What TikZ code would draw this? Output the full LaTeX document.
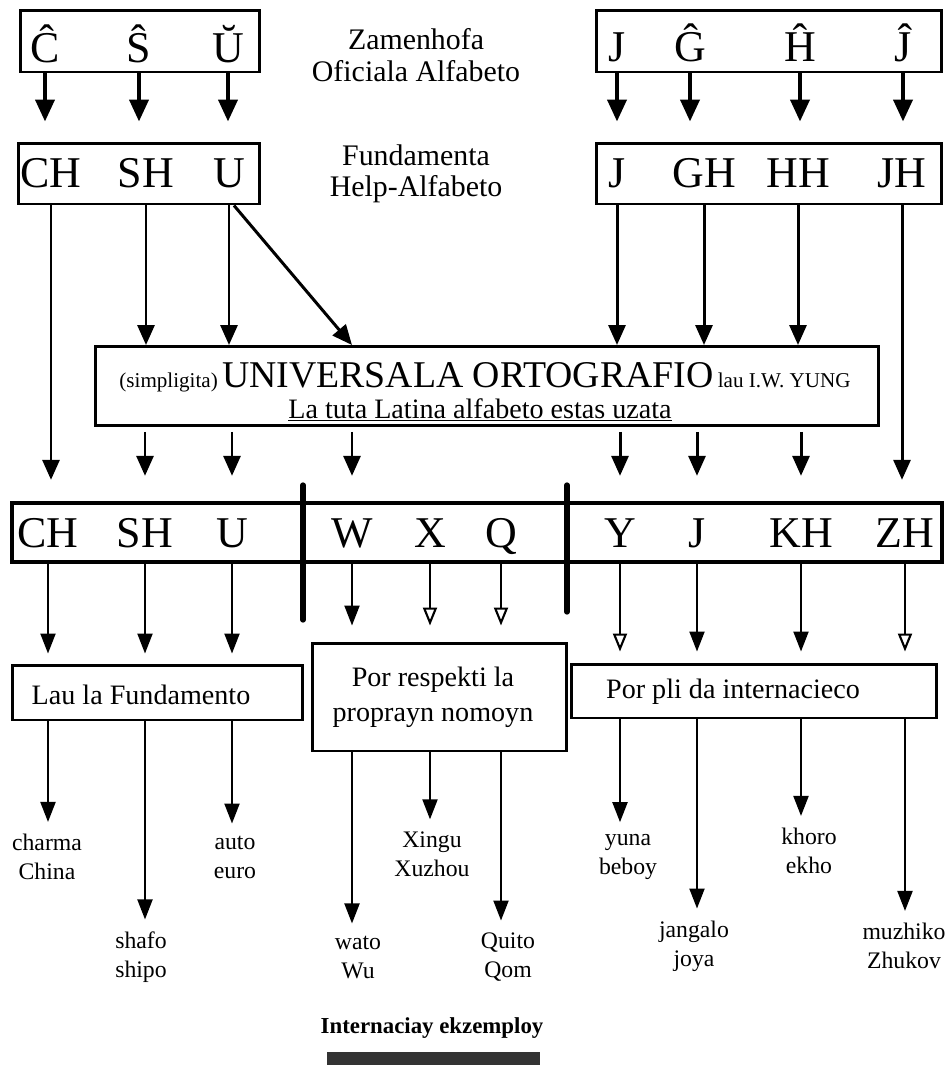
\documentclass[tikz,border=0pt]{standalone}
\usepackage{fontspec}
\setmainfont{Liberation Serif}
\usetikzlibrary{positioning, arrows.meta}

\begin{document}
\begin{tikzpicture}[
            x=0.02cm, y=-0.02cm,
            box/.style = {draw, line width=1.7pt, inner sep=0pt},
            letter/.style = {font=\fontsize{25}{27}\selectfont, inner sep=0pt, anchor=base},
            alfnote/.style = {font=\fontsize{17}{18}\selectfont, align=center},
            boxtext/.style = {font=\fontsize{16}{20}\selectfont, align=center},
            word/.style = {font=\fontsize{13.5}{16.5}\selectfont, align=center},
            fat/.style = {draw, line width=2.3pt, -{Triangle[length=4.4mm, width=3.8mm]}},
            line/.style = {draw, line width=1.7pt, -{Triangle[length=4mm, width=3.4mm]}},
            thin/.style = {draw, line width=1.2pt, -{Triangle[length=4mm, width=3mm]}},
            hollow/.style = {draw, line width=1.2pt, -{Triangle[open, length=3.6mm, width=2.8mm]}},
            wall/.style = {line width=3pt, line cap=round},
            ]
            \useasboundingbox (0,0) rectangle (952,1065);

            % Zamenhofa alfabeto
            \node[box, minimum width=4.8cm, minimum height=1.24cm] (zof) at (140,41) {};
            \node[box, minimum width=6.9cm, minimum height=1.24cm] (zofr) at (769,41) {};
            \node[letter] (zC) at (45,62) {Ĉ};
            \node[letter] (zS) at (139,62) {Ŝ};
            \node[letter] (zU) at (228,62) {Ŭ};
            \node[letter] (zJ) at (617,61) {J};
            \node[letter] (zG) at (690,61) {Ĝ};
            \node[letter] (zH) at (800,61) {Ĥ};
            \node[letter] (zJc) at (903,61) {Ĵ};
            \node[alfnote] (zam) at (416,55) {Zamenhofa\\Oficiala Alfabeto};

            % help-alfabeto
            \node[box, minimum width=4.84cm, minimum height=1.22cm] (help) at (139,173.5) {};
            \node[box, minimum width=6.9cm, minimum height=1.22cm] (helpr) at (769,173.5) {};
            \node[letter] (hC) at (51,187) {CH};
            \node[letter] (hS) at (146,187) {SH};
            \node[letter] (hU) at (229,187) {U};
            \node[letter] (hJ) at (617,187) {J};
            \node[letter] (hG) at (704,187) {GH};
            \node[letter] (hH) at (798,187) {HH};
            \node[letter] (hJh) at (902,187) {JH};
            \node[alfnote] (fun) at (416,174) {Fundamenta\\Help-Alfabeto};

            \draw[fat, shorten >=0.4cm] (zC |- zof.south) -- (zC |- help.north);
            \draw[fat, shorten >=0.4cm] (zS |- zof.south) -- (zS |- help.north);
            \draw[fat, shorten >=0.4cm] (zU |- zof.south) -- (zU |- help.north);
            \draw[fat, shorten >=0.4cm] (zJ |- zofr.south) -- (zJ |- helpr.north);
            \draw[fat, shorten >=0.4cm] (zG |- zofr.south) -- (zG |- helpr.north);
            \draw[fat, shorten >=0.4cm] (zH |- zofr.south) -- (zH |- helpr.north);
            \draw[fat, shorten >=0.4cm] (zJc |- zofr.south) -- (zJc |- helpr.north);

            % universala ortografio
            \node[box, minimum width=15.66cm, minimum height=1.58cm] (uni) at (487,386) {};
            \node (unitop) at (485,377) {{\fontsize{12}{14}\selectfont (simpligita)}
                {\fontsize{21.5}{24}\selectfont UNIVERSALA ORTOGRAFIO}
                {\fontsize{12}{14}\selectfont lau I.W. YUNG}};
            \node[font=\fontsize{16}{18}\selectfont] (unibot) at (480,410) {\underline{La tuta Latina alfabeto estas uzata}};

            % nova alfabeto
            \node[box, line width=2.5pt, minimum width=18.6cm, minimum height=1.18cm] (ort) at (477,532.5) {};
            \node[letter] (oC) at (48,547) {CH};
            \node[letter] (oS) at (145,547) {SH};
            \node[letter] (oU) at (232,547) {U};
            \node[letter] (oW) at (352,547) {W};
            \node[letter] (oX) at (430,547) {X};
            \node[letter] (oQ) at (501,547) {Q};
            \node[letter] (oY) at (620,547) {Y};
            \node[letter] (oJ) at (697,547) {J};
            \node[letter] (oK) at (801,547) {KH};
            \node[letter] (oZ) at (905,547) {ZH};
            \draw[wall] (303,485) -- (303,620);
            \draw[wall] (567,485) -- (567,612);

            \draw[line, shorten >=0.42cm] (hC |- help.south) -- (hC |- ort.north);
            \draw[line] (hS |- help.south) -- (hS |- uni.north);
            \draw[line] (hU |- help.south) -- (hU |- uni.north);
            \draw[line] ([xshift=0.1cm]hU |- help.south) -- (oW |- uni.north);
            \draw[line] (hJ |- helpr.south) -- (hJ |- uni.north);
            \draw[line] (hG |- helpr.south) -- (hG |- uni.north);
            \draw[line] (hH |- helpr.south) -- (hH |- uni.north);
            \draw[line, shorten >=0.42cm] (hJh |- helpr.south) -- (hJh |- ort.north);

            \draw[line, shorten <=0.1cm, shorten >=0.5cm] (oS |- uni.south) -- (oS |- ort.north);
            \draw[line, shorten <=0.1cm, shorten >=0.5cm] (oU |- uni.south) -- (oU |- ort.north);
            \draw[line, shorten <=0.1cm, shorten >=0.5cm] (oW |- uni.south) -- (oW |- ort.north);
            \draw[line, shorten <=0.1cm, shorten >=0.5cm] (oY |- uni.south) -- (oY |- ort.north);
            \draw[line, shorten <=0.1cm, shorten >=0.5cm] (oJ |- uni.south) -- (oJ |- ort.north);
            \draw[line, shorten <=0.1cm, shorten >=0.5cm] (oK |- uni.south) -- (oK |- ort.north);

            % celoj
            \node[box, minimum width=5.82cm, minimum height=1.1cm] (fund) at (157.5,692.5) {};
            \node[box, minimum width=5.1cm, minimum height=2.16cm] (prop) at (439.5,697) {};
            \node[box, minimum width=7.32cm, minimum height=1.08cm] (intl) at (754,691) {};
            \node[boxtext] (fundtxt) at (141,695) {Lau la Fundamento};
            \node[boxtext] (proptxt) at (433,697) {Por respekti la\\proprayn nomoyn};
            \node[boxtext] (intltxt) at (733,692) {Por pli da internacieco};

            \draw[thin, shorten >=0.2cm] (oC |- ort.south) -- (oC |- fund.north);
            \draw[thin, shorten >=0.2cm] (oS |- ort.south) -- (oS |- fund.north);
            \draw[thin, shorten >=0.2cm] (oU |- ort.south) -- (oU |- fund.north);
            \draw[thin, shorten >=0.32cm] (oW |- ort.south) -- (oW |- prop.north);
            \draw[hollow, shorten >=0.32cm] (oX |- ort.south) -- (oX |- prop.north);
            \draw[hollow, shorten >=0.32cm] (oQ |- ort.south) -- (oQ |- prop.north);
            \draw[hollow, shorten >=0.22cm] (oY |- ort.south) -- (oY |- intl.north);
            \draw[thin, shorten >=0.22cm] (oJ |- ort.south) -- (oJ |- intl.north);
            \draw[thin, shorten >=0.22cm] (oK |- ort.south) -- (oK |- intl.north);
            \draw[hollow, shorten >=0.22cm] (oZ |- ort.south) -- (oZ |- intl.north);

            % ekzemploj
            \node[word] (w1) at (47,857) {charma\\China};
            \node[word] (w2) at (141,957) {shafo\\shipo};
            \node[word] (w3) at (235,857) {auto\\euro};
            \node[word] (w4) at (358,957) {wato\\Wu};
            \node[word] (w5) at (432,854) {Xingu\\Xuzhou};
            \node[word] (w6) at (508,957) {Quito\\Qom};
            \node[word] (w7) at (628,857) {yuna\\beboy};
            \node[word] (w8) at (694,946) {jangalo\\joya};
            \node[word] (w9) at (809,851) {khoro\\ekho};
            \node[word] (w10) at (904,946) {muzhiko\\Zhukov};

            \draw[thin, shorten >=0.12cm] (oC |- fund.south) -- (oC |- w1.north);
            \draw[thin, shorten >=0.12cm] (oS |- fund.south) -- (oS |- w2.north);
            \draw[thin, shorten >=0.12cm] (oU |- fund.south) -- (oU |- w3.north);
            \draw[thin, shorten >=0.12cm] (oW |- prop.south) -- (oW |- w4.north);
            \draw[thin, shorten >=0.12cm] (oX |- prop.south) -- (oX |- w5.north);
            \draw[thin, shorten >=0.12cm] (oQ |- prop.south) -- (oQ |- w6.north);
            \draw[thin, shorten >=0.12cm] (oY |- intl.south) -- (oY |- w7.north);
            \draw[thin, shorten >=0.12cm] (oJ |- intl.south) -- (oJ |- w8.north);
            \draw[thin, shorten >=0.12cm] (oK |- intl.south) -- (oK |- w9.north);
            \draw[thin, shorten >=0.12cm] (oZ |- intl.south) -- (oZ |- w10.north);

            \node[font=\bfseries\fontsize{13}{15}\selectfont] (ekz) at (432,1028) {Internaciay ekzemploy};
            \fill[black!80] (327,1052) rectangle (540,1065);
        \end{tikzpicture}
\end{document}
